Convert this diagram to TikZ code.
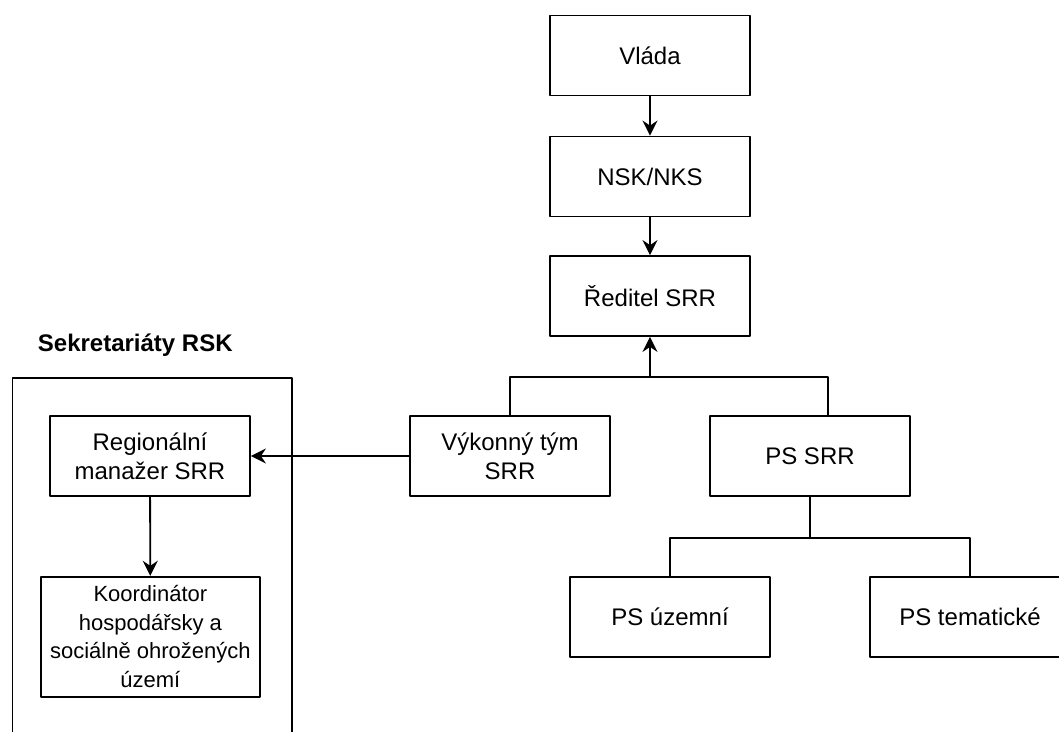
\documentclass[tikz,border=0pt]{standalone}
\usepackage{fontspec}
\setmainfont{Liberation Sans}
\usetikzlibrary{arrows.meta}
\begin{document}
\begin{tikzpicture}[x=1pt, y=-1pt, line width=1.8pt, line join=round,
		>={Stealth[length=15pt,width=15pt,inset=5pt]},
		font=\fontsize{24}{29}\selectfont,
		box/.style={draw, minimum width=200pt, minimum height=80pt, inner sep=2pt, align=center}]
		\useasboundingbox (0,0) rectangle (1059,731);
		\clip (0,0) rectangle (1059,731);
		% top chain
		\node[box] (vlada) at (650,55.5) {Vláda};
		\node[box] (nsk) at (650,176.5) {NSK/NKS};
		\node[box] (reditel) at (650,296) {Ředitel SRR};
		\draw[->] (vlada) -- (nsk);
		\draw[->] (nsk) -- (reditel);
		% second level
		\node[box] (vykon) at (510,456) {Výkonný tým\\SRR};
		\node[box] (pssrr) at (810,456) {PS SRR};
		\coordinate (j1) at (650,377);
		\draw[->] (vykon.north) |- (j1) -- (reditel.south);
		\draw ([xshift=18pt]pssrr.north) |- (j1);
		% working groups
		\node[box] (psuz) at (670,616.7) {PS územní};
		\node[box] (pstem) at (970,616.7) {PS tematické};
		\draw (pssrr.south) -- ++(0,40.7) coordinate (j2);
		\draw (j2) -| (psuz.north);
		\draw (j2) -| (pstem.north);
		% secretariats
		\node[anchor=west, inner sep=0, font=\fontsize{24}{29}\selectfont\bfseries] (rsklabel) at (37,345) {Sekretariáty RSK};
		\node[draw, anchor=north west, minimum width=279.5pt, minimum height=420pt, inner sep=0] (rsk) at (11.5,377) {};
		\node[box] (regman) at (150,456) {Regionální\\manažer SRR};
		\node[box, minimum width=219.3pt, minimum height=120pt, font=\fontsize{22}{28.5}\selectfont] (koord) at (150.4,636.7)
			{Koordinátor\\hospodářsky a\\sociálně ohrožených\\území};
		\draw[->] (vykon.west) -- (regman.east);
		\draw[->] (regman) -- (koord);
\end{tikzpicture}
\end{document}
